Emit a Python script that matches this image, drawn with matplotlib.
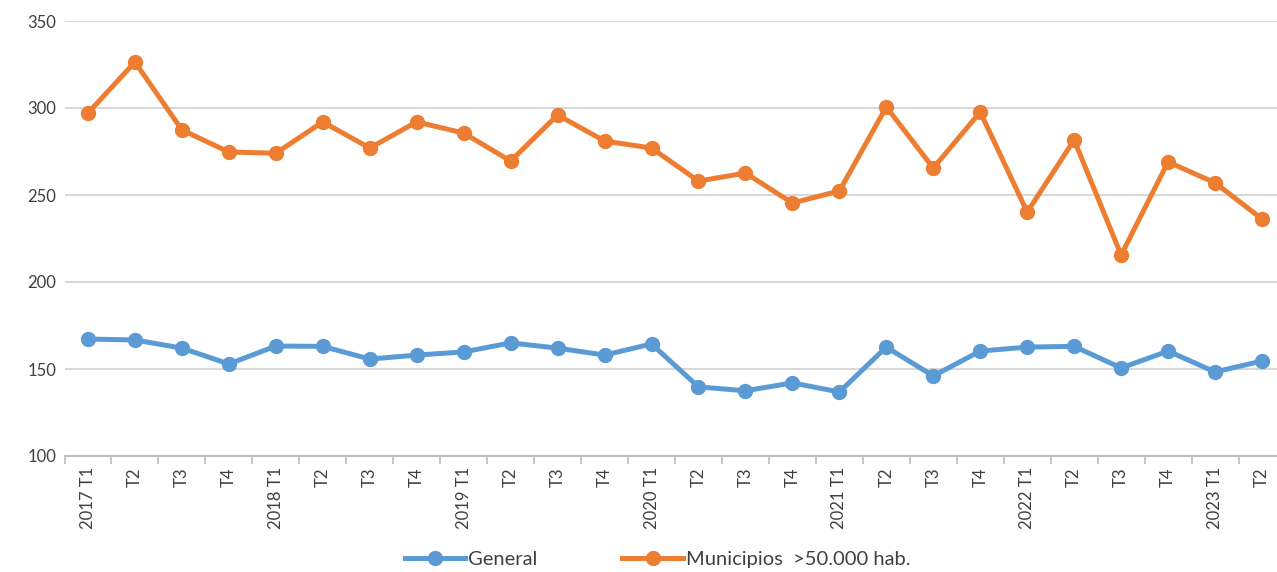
import numpy as np
import matplotlib
matplotlib.use('Agg')
import matplotlib.pyplot as plt

# quarters
labels = ['2017 T1', 'T2', 'T3', 'T4',
          '2018 T1', 'T2', 'T3', 'T4',
          '2019 T1', 'T2', 'T3', 'T4',
          '2020 T1', 'T2', 'T3', 'T4',
          '2021 T1', 'T2', 'T3', 'T4',
          '2022 T1', 'T2', 'T3', 'T4',
          '2023 T1', 'T2']

general = [167.2, 166.7, 162, 152.9, 163.2, 163, 155.7, 158, 159.8, 165, 162, 158,
           164.4, 139.7, 137.5, 142, 136.8, 162.6, 146, 160.3, 162.6, 163, 150.6, 160.3,
           148.3, 154.6]

municipios = [297.1, 326.4, 287.4, 274.7, 274, 292, 277, 292, 285.6, 269.5, 296, 281,
              277, 258, 262.6, 245.4, 252.3, 300.6, 265.5, 297.7, 240.2, 281.6, 215.5, 269,
              257, 236.2]

blue = '#5B9BD5'
orange = '#ED7D31'
txt = '#404040'

plt.rcParams['font.family'] = ['Lato', 'DejaVu Sans']

fig = plt.figure(figsize=(12.77, 5.72), dpi=100)
ax = fig.add_axes([64.5 / 1277, 116 / 572, 1221 / 1277, 435 / 572])

x = np.arange(len(labels))
ax.plot(x, general, color=blue, lw=3.6, marker='o', ms=10, label='General', zorder=3)
ax.plot(x, municipios, color=orange, lw=3.6, marker='o', ms=10,
        label='Municipios  >50.000 hab.', zorder=3)

ax.set_xlim(-0.5, len(labels) - 0.5)
ax.set_ylim(100, 350)
ax.set_yticks([100, 150, 200, 250, 300, 350])
ax.yaxis.grid(True, color='#D9D9D9', lw=1.5)
ax.set_axisbelow(True)

ax.set_xticks(np.arange(-0.5, len(labels), 1))
ax.set_xticklabels([])
ax.set_xticks(x, minor=True)
ax.set_xticklabels(labels, minor=True, rotation=90, fontsize=12, color=txt)
ax.tick_params(axis='x', which='major', length=6, width=1.2, color='#BFBFBF')
ax.tick_params(axis='x', which='minor', length=0, pad=8)
ax.tick_params(axis='y', length=0, labelsize=12, labelcolor=txt, pad=6)

for s in ['top', 'right', 'left']:
    ax.spines[s].set_visible(False)
ax.spines['bottom'].set_color('#BFBFBF')
ax.spines['bottom'].set_linewidth(1.5)

fig.legend(loc='center', bbox_to_anchor=(0.515, 0.022), ncol=2, frameon=False,
           fontsize=14.5, handlelength=3.0, columnspacing=4.2, handletextpad=0.15,
           labelcolor=txt)

fig.savefig('out.png', dpi=100)
